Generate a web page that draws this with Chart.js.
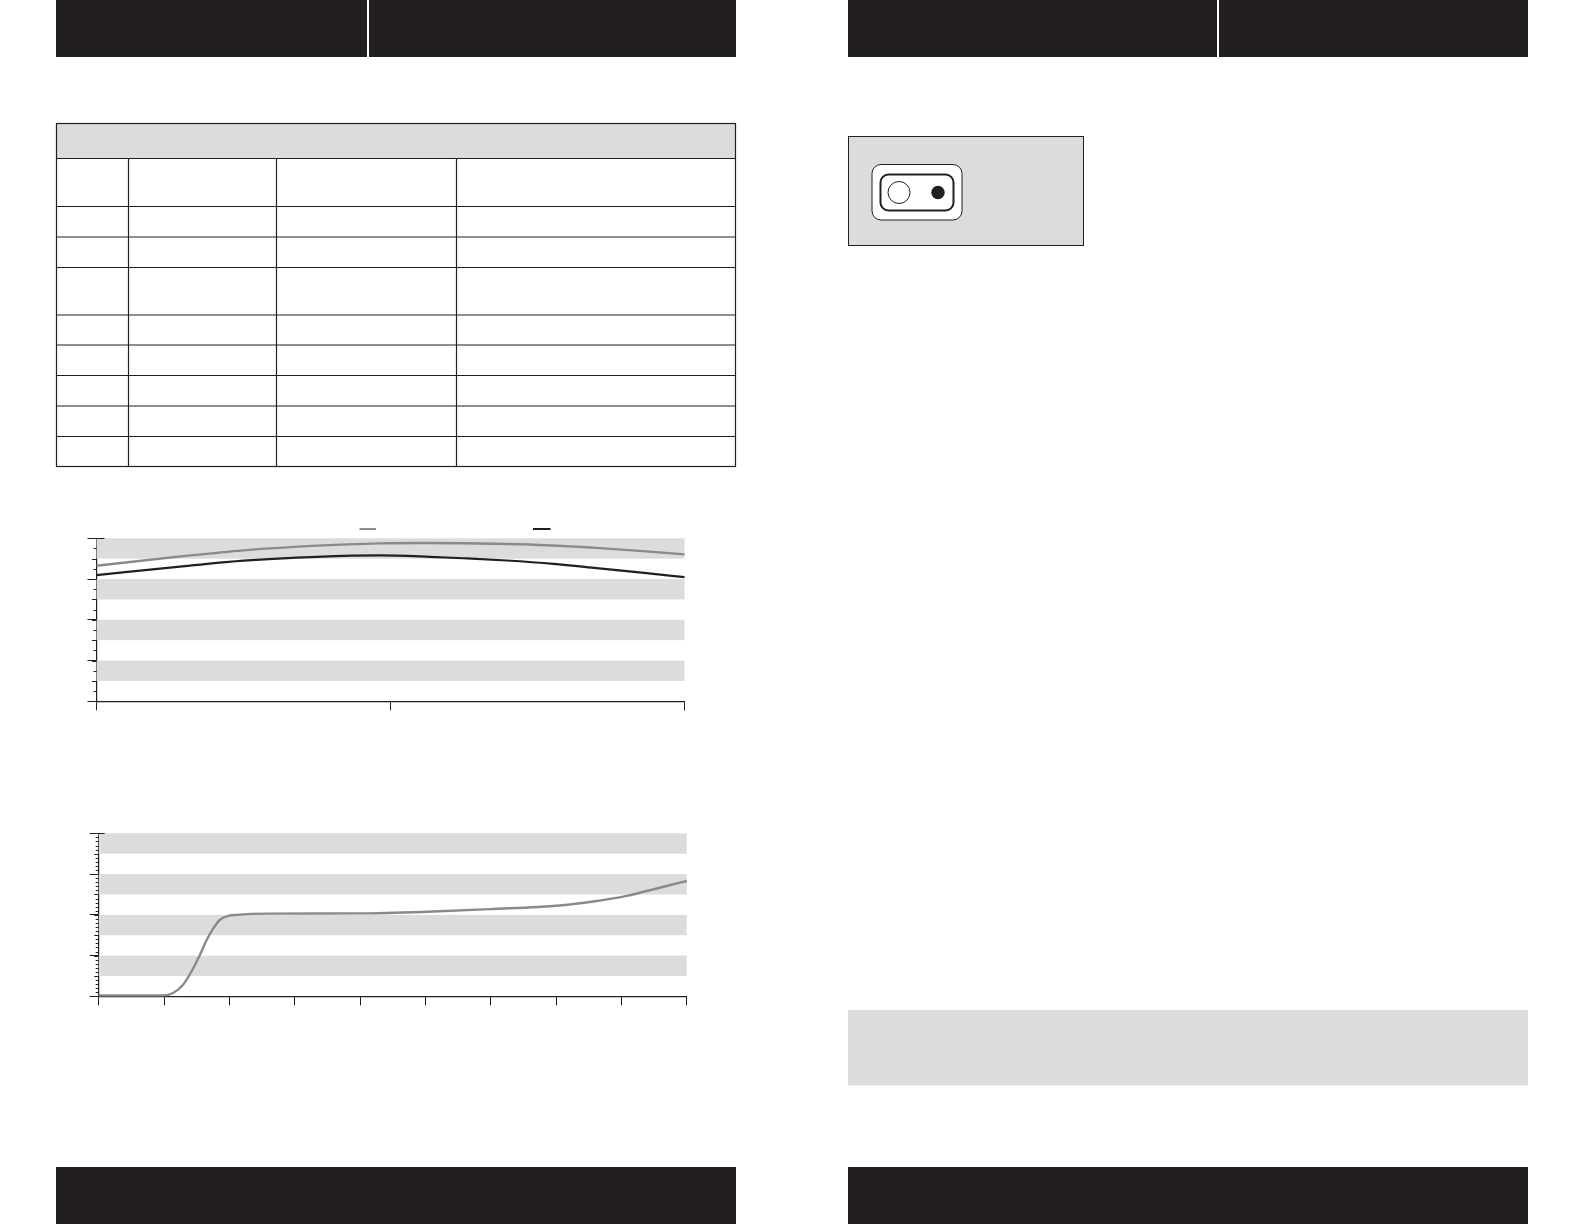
<!DOCTYPE html>
<html>
<head>
<meta charset="utf-8">
<title>Chart</title>
<script src="https://cdn.jsdelivr.net/npm/chart.js@4"></script>
<style>
html,body{margin:0;padding:0;background:#fff;width:1584px;height:1224px;overflow:hidden}
svg{position:absolute;left:0;top:0}
canvas{position:absolute;display:block}
</style>
</head>
<body>
<svg width="1584" height="1224" xmlns="http://www.w3.org/2000/svg">
  <g fill="#231f20">
    <rect x="56" y="0" width="680" height="57"/>
    <rect x="848" y="0" width="680" height="57"/>
    <rect x="56" y="1167" width="680" height="57"/>
    <rect x="848" y="1167" width="680" height="57"/>
  </g>
  <rect x="367" y="0" width="2" height="57" fill="#fff"/>
  <rect x="1217" y="0" width="2" height="57" fill="#fff"/>
  <rect x="56.5" y="123.5" width="679" height="35" fill="#dcdcdc"/>
  <g stroke="#231f20" stroke-width="1.2" fill="none">
    <rect x="56.5" y="123.5" width="679" height="343"/>
    <path d="M56.5 158.5H735.5M56.5 206.5H735.5M56.5 237H735.5M56.5 267.5H735.5M56.5 315H735.5M56.5 345H735.5M56.5 375.5H735.5M56.5 406H735.5M56.5 436.5H735.5"/>
    <path d="M128.5 158.5V466.5M276.5 158.5V466.5M456.5 158.5V466.5"/>
  </g>
  <rect x="848.5" y="136.5" width="235" height="109" fill="#dcdcdc" stroke="#231f20" stroke-width="1"/>
  <rect x="872" y="164.5" width="90" height="55.5" rx="9" fill="#fff" stroke="#231f20" stroke-width="1"/>
  <rect x="880.5" y="174.5" width="73" height="36" rx="8" fill="none" stroke="#231f20" stroke-width="2"/>
  <circle cx="899" cy="192.5" r="11" fill="#fff" stroke="#231f20" stroke-width="1"/>
  <circle cx="938" cy="192.5" r="6.7" fill="#231f20"/>
  <rect x="848" y="1010" width="680" height="75.5" fill="#dcdcdc"/>
  <rect x="359.5" y="528" width="16.5" height="2" fill="#8e8e8e"/>
  <rect x="533" y="528" width="17.5" height="2" fill="#231f20"/>
</svg>
<canvas id="chartA" width="620" height="190" style="left:80px;top:530px;width:620px;height:190px"></canvas>
<canvas id="chartB" width="620" height="190" style="left:80px;top:825px;width:620px;height:190px"></canvas>
<script>
// Chart A data
const aGreyX = [0, 0.318, 0.5, 0.75, 0.964, 1.1, 1.25, 1.4, 1.53, 1.7, 1.87, 2];
const aGrey = [33.25, 35.8, 37.05, 38.2, 38.75, 38.85, 38.8, 38.6, 38.3, 37.65, 36.8, 36.05];
const aBlackX = [0, 0.318, 0.5, 0.75, 0.964, 1.134, 1.248, 1.395, 1.554, 1.701, 1.871, 2];
const aBlack = [30.95, 33.3, 34.5, 35.45, 35.8, 35.46, 35.1, 34.55, 33.74, 32.7, 31.45, 30.47];
// Chart B data
const bPositions = [0, 0.985, 1.138, 1.291, 1.42, 1.55, 1.654, 1.755, 1.857, 1.985, 2.11, 2.62, 4, 5.03, 5.99, 7.06, 7.57, 8.08, 8.6, 9];
const bGrey = [0.25, 0.25, 0.83, 2.86, 6.1, 10.2, 13.9, 16.7, 18.8, 19.75, 20, 20.3, 20.35, 20.75, 21.4, 22.3, 23.26, 24.65, 26.7, 28.3];
// Shaded bands on the value axis
const bandRanges = [[35, 40], [25, 30], [15, 20], [5, 10]];

const INK = '#231f20', GREY = '#8a8a8a', BAND = '#dcdcdc';

const furniture = {
  id: 'furniture',
  beforeDatasetsDraw(chart) {
    const {ctx, chartArea: a, scales: {y}} = chart;
    ctx.save();
    ctx.fillStyle = BAND;
    bandRanges.forEach(([lo, hi]) => {
      const top = y.getPixelForValue(hi), bottom = y.getPixelForValue(lo);
      ctx.fillRect(a.left, top, a.right - a.left, bottom - top);
    });
    ctx.restore();
  },
  afterDraw(chart, args, opts) {
    const {ctx, chartArea: a, scales: {y}} = chart;
    ctx.save();
    ctx.strokeStyle = INK;
    ctx.lineWidth = 1;
    for (let v = y.min; v < y.max; v += opts.minorStep) {
      const p = Math.round(y.getPixelForValue(v)) + 0.5;
      const len = v % 5 === 0 ? opts.midLength : opts.minorLength;
      ctx.beginPath();
      ctx.moveTo(a.left - len, p);
      ctx.lineTo(a.left, p);
      ctx.stroke();
    }
    const t = Math.round(y.getPixelForValue(y.max)) + 0.5;
    ctx.beginPath();
    ctx.moveTo(a.left, t);
    ctx.lineTo(a.left + opts.topStub, t);
    ctx.stroke();
    ctx.restore();
  }
};

function series(xs, ys, color, width) {
  return {
    data: xs.map((x, i) => ({x, y: ys[i]})),
    borderColor: color,
    borderWidth: width,
    pointRadius: 0,
    cubicInterpolationMode: 'monotone',
    fill: false,
    clip: false
  };
}

function build(id, datasets, xMax, padding, minorStep, topStub) {
  return new Chart(document.getElementById(id), {
    type: 'line',
    data: {datasets},
    plugins: [furniture],
    options: {
      responsive: false,
      animation: false,
      devicePixelRatio: 1,
      layout: {padding},
      plugins: {legend: {display: false}, tooltip: {enabled: false},
        furniture: {minorStep, minorLength: 3, midLength: 4.5, topStub}},
      scales: {
        x: {
          type: 'linear', min: 0, max: xMax,
          afterFit(s) { s.height = 9; },
          ticks: {display: false, stepSize: 1},
          grid: {drawOnChartArea: false, tickLength: 9, tickColor: INK, tickWidth: 1},
          border: {color: INK, width: 1.2}
        },
        y: {
          min: 0, max: 40,
          afterFit(s) { s.width = 8; },
          ticks: {display: false, stepSize: 10},
          grid: {drawOnChartArea: false, tickLength: 9, tickColor: INK, tickWidth: 1},
          border: {color: INK, width: 1.2}
        }
      }
    }
  });
}

build('chartA', [series(aGreyX, aGrey, GREY, 2.4), series(aBlackX, aBlack, INK, 2.2)], 2,
  {left: 8.5, right: 15.5, top: 8.3, bottom: 9.7}, 2.5, 8);
build('chartB', [series(bPositions, bGrey, GREY, 2.4)], 9,
  {left: 10.7, right: 13.3, top: 8.3, bottom: 9.6}, 1, 6);
</script>
</body>
</html>
